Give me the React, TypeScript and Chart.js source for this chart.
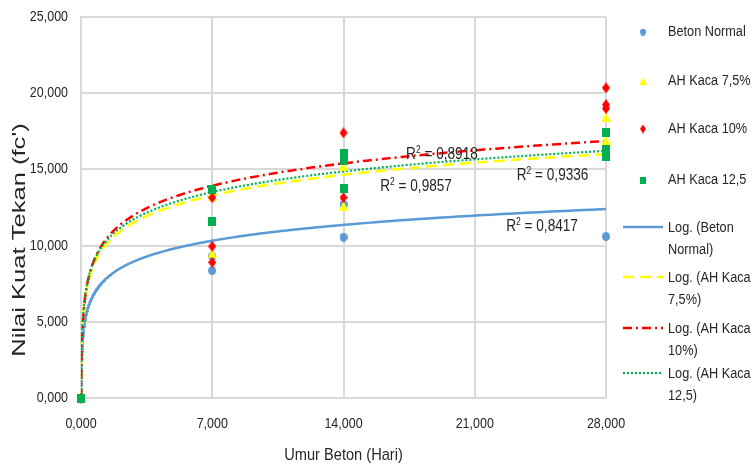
import React, { useEffect, useRef } from 'react';
import { Chart, registerables } from 'chart.js';

Chart.register(...registerables);

const SANS = '"Liberation Sans", Arial, sans-serif';
const TEXT_COLOR = '#262626';
const GRID_COLOR = '#d9d9d9';

// ---- data ----
const seriesNames = ['Beton Normal', 'AH Kaca 7,5%', 'AH Kaca 10%', 'AH Kaca 12,5'];
const trendNames = [
  ['Log. (Beton', 'Normal)'],
  ['Log. (AH Kaca', '7,5%)'],
  ['Log. (AH Kaca', '10%)'],
  ['Log. (AH Kaca', '12,5)'],
];
const seriesColors = ['#5b9bd5', '#ffff00', '#ff0000', '#00b050'];

const normalAge = [0, 7, 7, 14, 14, 28];
const normalFc = [0, 9300, 8350, 12700, 10550, 10600];

const kaca75Age = [0, 7, 7, 14, 14, 28, 28];
const kaca75Fc = [0, 13250, 9500, 15250, 12600, 18450, 16950];

const kaca10Age = [0, 7, 7, 7, 14, 14, 28, 28, 28];
const kaca10Fc = [0, 13150, 9950, 8900, 17400, 13150, 20350, 19250, 19000];

const kaca125Age = [0, 7, 7, 14, 14, 14, 28, 28, 28];
const kaca125Fc = [0, 13700, 11600, 16050, 15600, 13750, 17400, 16300, 15850];

// logarithmic trendline coefficients  y = a ln(x) + b
const trendSlope = [1500, 1954, 2120, 1950];
const trendIntercept = [7402, 9489, 9800, 9720];
const rSquared = ['0,8417', '0,9857', '0,8918', '0,9336'];

const xTicks = [0, 7, 14, 21, 28];
const yTicks = [0, 5000, 10000, 15000, 20000, 25000];

const xTitle = 'Umur Beton (Hari)';
const yTitle = "Nilai Kuat Tekan (fc')";

// label anchors (in axis units) for the R² texts
const rLabelAge = [24.59, 17.87, 19.25, 25.15];
const rLabelFc = [11220, 13845, 15945, 14567];

const ages = [normalAge, kaca75Age, kaca10Age, kaca125Age];
const fcs = [normalFc, kaca75Fc, kaca10Fc, kaca125Fc];
const markerKinds = ['circle', 'triangle', 'diamond', 'square'];
const trendDash = [[], [11, 6], [9, 4, 2, 4], [2, 2]];
const trendWidth = [2.5, 2.5, 2.5, 2.2];

function makeMarker(kind: string, color: string, w: number, h: number) {
  const c = document.createElement('canvas');
  c.width = w;
  c.height = h;
  const ctx = c.getContext('2d')!;
  ctx.fillStyle = color;
  ctx.beginPath();
  if (kind === 'circle') ctx.ellipse(w / 2, h / 2, w / 2, h / 2, 0, 0, Math.PI * 2);
  else if (kind === 'triangle') {
    ctx.moveTo(w / 2, 0);
    ctx.lineTo(w, h);
    ctx.lineTo(0, h);
  } else if (kind === 'diamond') {
    ctx.moveTo(w / 2, 0);
    ctx.lineTo(w, h / 2);
    ctx.lineTo(w / 2, h);
    ctx.lineTo(0, h / 2);
  } else ctx.rect(0, 0, w, h);
  ctx.closePath();
  ctx.fill();
  return c;
}

const markerSize: Record<string, [number, number]> = {
  circle: [8, 9],
  triangle: [9, 10],
  diamond: [8, 11],
  square: [8, 9],
};

function trendPoints(a: number, b: number) {
  const pts: { x: number; y: number }[] = [];
  const x0 = Math.exp(-b / a);
  pts.push({ x: x0, y: 0 });
  const n = 300;
  for (let i = 1; i <= n; i++) {
    const x = x0 * Math.pow(28 / x0, i / n);
    pts.push({ x, y: a * Math.log(x) + b });
  }
  return pts;
}

const fmt3 = (v: number) => v.toFixed(3).replace('.', ',');

// draw horizontally condensed text (mimics the narrow look of the original)
function drawText(
  ctx: CanvasRenderingContext2D,
  text: string,
  x: number,
  y: number,
  size: number,
  k: number,
  align: 'left' | 'center' | 'right' = 'left'
) {
  ctx.save();
  ctx.font = `${size}px ${SANS}`;
  ctx.textBaseline = 'middle';
  ctx.textAlign = align;
  ctx.translate(x, y);
  ctx.scale(k, 1);
  ctx.fillText(text, 0, 0);
  ctx.restore();
}

function textWidth(ctx: CanvasRenderingContext2D, text: string, size: number, k: number) {
  ctx.save();
  ctx.font = `${size}px ${SANS}`;
  const w = ctx.measureText(text).width * k;
  ctx.restore();
  return w;
}

export default function App() {
  const ref = useRef<HTMLCanvasElement>(null);

  useEffect(() => {
    if (!ref.current) return;
    const datasets: any[] = [];
    const scatterOrder = [4, 3, 2, 1];
    for (let i = 0; i < 4; i++) {
      const [w, h] = markerSize[markerKinds[i]];
      datasets.push({
        type: 'scatter',
        label: seriesNames[i],
        data: ages[i].map((x, k) => ({ x, y: fcs[i][k] })),
        pointStyle: makeMarker(markerKinds[i], seriesColors[i], w, h),
        pointRadius: 4,
        backgroundColor: seriesColors[i],
        borderColor: seriesColors[i],
        order: scatterOrder[i],
        clip: false,
      });
    }
    const trendOrder = [14, 13, 12, 11];
    for (let i = 0; i < 4; i++) {
      datasets.push({
        type: 'line',
        label: trendNames[i].join(' '),
        data: trendPoints(trendSlope[i], trendIntercept[i]),
        borderColor: seriesColors[i],
        borderWidth: trendWidth[i],
        borderDash: trendDash[i],
        pointRadius: 0,
        fill: false,
        tension: 0,
        order: trendOrder[i],
      });
    }

    const overlay = {
      id: 'overlay',
      afterDraw(chart: any) {
        const ctx = chart.ctx as CanvasRenderingContext2D;
        const xs = chart.scales.x;
        const ys = chart.scales.y;
        ctx.save();
        ctx.fillStyle = TEXT_COLOR;

        // tick labels from the scales
        const TK = 0.86;
        const TS = 14.5;
        for (const t of xs.ticks) {
          drawText(ctx, fmt3(t.value), xs.getPixelForValue(t.value), xs.top + 26, TS, TK, 'center');
        }
        for (const t of ys.ticks) {
          drawText(ctx, fmt3(t.value / 1000), ys.right - 13, ys.getPixelForValue(t.value), TS, TK, 'right');
        }
        // x axis title
        drawText(ctx, xTitle, (chart.chartArea.left + chart.chartArea.right) / 2, 455, 17, 0.86, 'center');

        // y axis title (stretched along its length)
        ctx.save();
        ctx.translate(25, 240);
        ctx.rotate(-Math.PI / 2);
        ctx.scale(1.42, 1);
        ctx.font = `18px ${SANS}`;
        ctx.textAlign = 'center';
        ctx.textBaseline = 'alphabetic';
        ctx.fillText(yTitle, 0, 0);
        ctx.restore();

        // R² labels
        const RS = 16;
        const RK = 0.85;
        for (let i = 0; i < 4; i++) {
          const cx = xs.getPixelForValue(rLabelAge[i]);
          const cy = ys.getPixelForValue(rLabelFc[i]);
          const rest = ' = ' + rSquared[i];
          const wR = textWidth(ctx, 'R', RS, RK);
          const w2 = textWidth(ctx, '2', 10, RK);
          const wRest = textWidth(ctx, rest, RS, RK);
          let x = cx - (wR + w2 + wRest) / 2;
          drawText(ctx, 'R', x, cy, RS, RK);
          x += wR;
          drawText(ctx, '2', x, cy - 5, 10, RK);
          x += w2;
          drawText(ctx, rest, x, cy, RS, RK);
        }

        // legend
        const LS = 15.5;
        const LK = 0.82;
        const markerY = [32, 81, 129, 180];
        for (let i = 0; i < 4; i++) {
          const [w, h] = markerSize[markerKinds[i]];
          const img = makeMarker(markerKinds[i], seriesColors[i], w - 2, h - 2);
          ctx.drawImage(img, 643 - (w - 2) / 2, markerY[i] - (h - 2) / 2);
          drawText(ctx, seriesNames[i], 668, markerY[i], LS, LK);
        }
        const lineY = [228, 278, 329, 374];
        for (let i = 0; i < 4; i++) {
          ctx.save();
          ctx.strokeStyle = seriesColors[i];
          ctx.lineWidth = trendWidth[i];
          ctx.setLineDash(trendDash[i]);
          ctx.beginPath();
          ctx.moveTo(623, lineY[i] - 1);
          ctx.lineTo(663, lineY[i] - 1);
          ctx.stroke();
          ctx.restore();
          drawText(ctx, trendNames[i][0], 668, lineY[i], LS, LK);
          drawText(ctx, trendNames[i][1], 668, lineY[i] + 22, LS, LK);
        }
        ctx.restore();
      },
    };

    const chart = new Chart(ref.current, {
      type: 'scatter',
      data: { datasets },
      options: {
        animation: false,
        responsive: false,
        maintainAspectRatio: false,
        layout: { padding: { top: 17, right: 148, left: 0, bottom: 0 } },
        plugins: { legend: { display: false }, tooltip: { enabled: false } },
        scales: {
          x: {
            type: 'linear',
            min: 0,
            max: 28,
            afterBuildTicks: (s: any) => {
              s.ticks = xTicks.map((v) => ({ value: v }));
            },
            afterFit: (s: any) => {
              s.height = 72;
            },
            grid: { color: GRID_COLOR, lineWidth: 2, drawTicks: false },
            border: { color: GRID_COLOR, width: 2 },
            ticks: { display: false },
            title: { display: false },
          },
          y: {
            type: 'linear',
            min: 0,
            max: 25000,
            afterBuildTicks: (s: any) => {
              s.ticks = yTicks.map((v) => ({ value: v }));
            },
            afterFit: (s: any) => {
              s.width = 81;
            },
            grid: { color: GRID_COLOR, lineWidth: 2, drawTicks: false },
            border: { color: GRID_COLOR, width: 2 },
            ticks: { display: false },
            title: { display: false },
          },
        },
      },
      plugins: [overlay],
    } as any);
    return () => chart.destroy();
  }, []);

  return (
    <div style={{ position: 'absolute', left: 0, top: 0, width: 754, height: 470, background: '#fff' }}>
      <canvas ref={ref} width={754} height={470} style={{ display: 'block', width: 754, height: 470 }} />
    </div>
  );
}
